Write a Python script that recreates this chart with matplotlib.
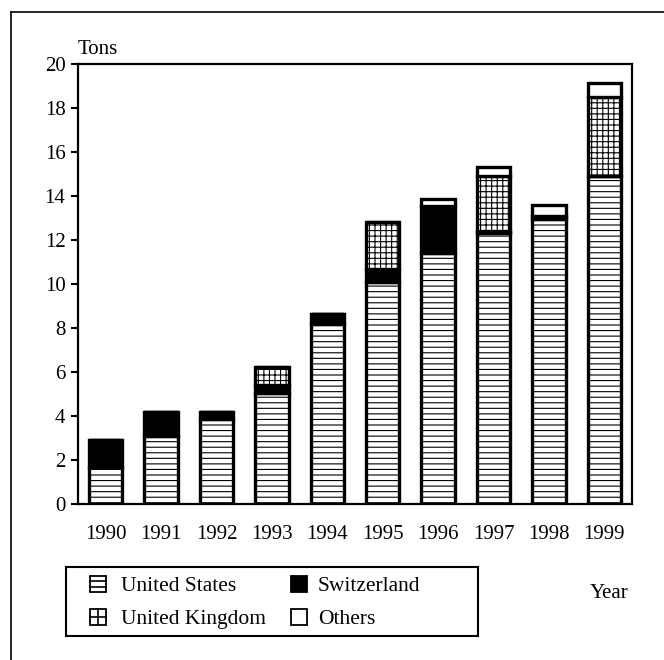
import numpy as np
import matplotlib
matplotlib.use("Agg")
import matplotlib.pyplot as plt
from matplotlib.patches import Rectangle
from matplotlib.lines import Line2D

# data (tons)
years = ["1990", "1991", "1992", "1993", "1994", "1995", "1996", "1997", "1998", "1999"]
united_states = [1.7, 3.1, 3.85, 5.05, 8.2, 10.1, 11.4, 12.3, 12.95, 14.9]
switzerland = [1.2, 1.1, 0.35, 0.35, 0.45, 0.6, 2.15, 0.1, 0.15, 0.0]
united_kingdom = [0.0, 0.0, 0.0, 0.85, 0.0, 2.1, 0.0, 2.5, 0.0, 3.6]
others = [0.0, 0.0, 0.0, 0.0, 0.0, 0.0, 0.3, 0.4, 0.5, 0.65]
y_ticks = [0, 2, 4, 6, 8, 10, 12, 14, 16, 18, 20]
legend_labels = ["United States", "Switzerland", "United Kingdom", "Others"]

plt.rcParams["font.family"] = ["Liberation Serif", "DejaVu Serif"]
plt.rcParams["hatch.linewidth"] = 0.8

W, H = 664, 660
fig = plt.figure(figsize=(W / 100, H / 100), dpi=100)
ax = fig.add_axes([78 / W, 1 - 504 / H, 554 / W, 440 / H])

x = np.arange(len(years))
width = 0.6
bottom = np.zeros(len(years))
series = [
    (united_states, "white", "---"),
    (switzerland, "black", None),
    (united_kingdom, "white", "+++"),
    (others, "white", None),
]
for vals, fc, hatch in series:
    vals = np.array(vals)
    ax.bar(x, vals, width, bottom=bottom, color=fc, edgecolor="black",
           linewidth=2.4, hatch=hatch)
    bottom += vals

ax.set_xlim(-0.5, 9.5)
ax.set_ylim(0, 20)
ax.set_yticks(y_ticks)
ax.set_xticks(x)
ax.set_xticklabels(years)
ax.tick_params(axis="x", length=0, pad=15, labelsize=15)
ax.tick_params(axis="y", length=5, width=1.5, pad=4, labelsize=15)
for s in ax.spines.values():
    s.set_linewidth(1.6)

ax.text(0.0, 1.012, "Tons", transform=ax.transAxes, ha="left", va="bottom", fontsize=15)
fig.text(628 / W, 1 - 593 / H, "Year", ha="right", va="center", fontsize=15)


# hand-drawn legend, in figure pixels
def px(xp, yp):
    return xp / W, 1 - yp / H


def fig_rect(x0, y0, x1, y1, **kw):
    fig.add_artist(Rectangle(px(x0, y1), (x1 - x0) / W, (y1 - y0) / H,
                             transform=fig.transFigure, **kw))


def fig_line(x0, y0, x1, y1, lw=1.2):
    fig.add_artist(Line2D([x0 / W, x1 / W], [1 - y0 / H, 1 - y1 / H],
                          color="black", linewidth=lw))


fig_rect(66, 567, 478, 636, facecolor="white", edgecolor="black", linewidth=1.5)

rows = [584, 617]
cols = [(90, 121), (291, 318)]
s = 16  # handle size
base = 7  # text baseline below row centre


def label(tx, cy, txt):
    fig.text(*px(tx, cy + base), txt, ha="left", va="baseline", fontsize=15.5)


# United States: box with two horizontal lines
hx, tx = cols[0]
cy = rows[0]
fig_rect(hx, cy - s / 2, hx + s, cy + s / 2, facecolor="white", edgecolor="black", linewidth=1.3)
fig_line(hx, cy - s / 6, hx + s, cy - s / 6)
fig_line(hx, cy + s / 6, hx + s, cy + s / 6)
label(tx, cy, legend_labels[0])

# Switzerland: solid black
hx, tx = cols[1]
fig_rect(hx, cy - s / 2, hx + s, cy + s / 2, facecolor="black", edgecolor="black", linewidth=1.3)
label(tx, cy, legend_labels[1])

# United Kingdom: box with a cross
hx, tx = cols[0]
cy = rows[1]
fig_rect(hx, cy - s / 2, hx + s, cy + s / 2, facecolor="white", edgecolor="black", linewidth=1.3)
fig_line(hx, cy, hx + s, cy)
fig_line(hx + s / 2, cy - s / 2, hx + s / 2, cy + s / 2)
label(tx, cy, legend_labels[2])

# Others: empty box
hx, tx = cols[1]
fig_rect(hx, cy - s / 2, hx + s, cy + s / 2, facecolor="white", edgecolor="black", linewidth=1.3)
label(tx, cy, legend_labels[3])

# outer frame (left and top edges visible)
fig_line(11, 12, 11, H)
fig_line(11, 12, W, 12)

fig.savefig("out.png", dpi=100)
